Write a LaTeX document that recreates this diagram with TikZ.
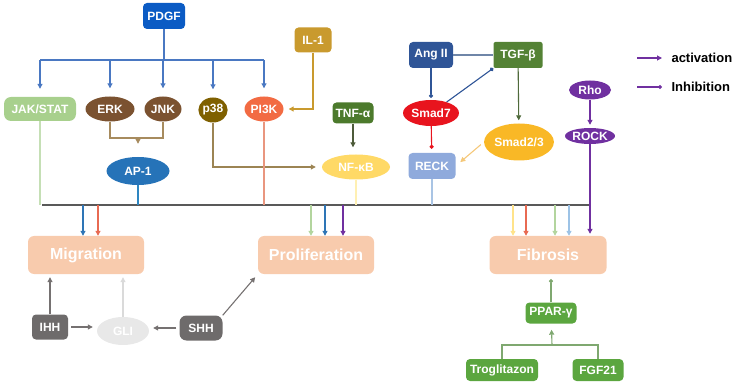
\documentclass[tikz,border=0pt]{standalone}
\usepackage{fontspec}
\setmainfont{Liberation Sans}
\usetikzlibrary{arrows.meta,positioning,shapes.geometric}
\definecolor{pdgfBlue}{HTML}{0B5BC4}
\definecolor{pdgfLine}{HTML}{4A78C2}
\definecolor{jakGreen}{HTML}{A8D08D}
\definecolor{erkBrown}{HTML}{7B5230}
\definecolor{erkTan}{HTML}{A78B5E}
\definecolor{p38Olive}{HTML}{7F6000}
\definecolor{p38Line}{HTML}{9C8453}
\definecolor{pi3kRed}{HTML}{F26B43}
\definecolor{il1Gold}{HTML}{C99A2E}
\definecolor{tnfGreen}{HTML}{4C7A2C}
\definecolor{tnfLine}{HTML}{4D5B3A}
\definecolor{ap1Blue}{HTML}{2673B8}
\definecolor{nfkbYellow}{HTML}{FFD966}
\definecolor{angBlue}{HTML}{2F5597}
\definecolor{angLine}{HTML}{6F86A8}
\definecolor{tgfGreen}{HTML}{548235}
\definecolor{tgfLine}{HTML}{4F6A3B}
\definecolor{smadRed}{HTML}{E8141E}
\definecolor{smadGold}{HTML}{F9B826}
\definecolor{smadLine}{HTML}{F5C87A}
\definecolor{reckBlue}{HTML}{8FAADC}
\definecolor{rhoPurple}{HTML}{7030A0}
\definecolor{outPeach}{HTML}{F8CBAD}
\definecolor{hhGray}{HTML}{6E6B6B}
\definecolor{hhLine}{HTML}{757171}
\definecolor{gliGray}{HTML}{E8E8E8}
\definecolor{gliLine}{HTML}{DADADA}
\definecolor{pparGreen}{HTML}{5BA63F}
\definecolor{pparLine}{HTML}{7FA870}
\definecolor{busGray}{HTML}{595959}
\definecolor{feedJak}{HTML}{C5DFB5}
\definecolor{feedAp}{HTML}{2E86C1}
\definecolor{feedPi}{HTML}{E9967F}
\definecolor{feedNf}{HTML}{FFF0B3}
\definecolor{feedReck}{HTML}{A9C4E4}
\definecolor{outBlue}{HTML}{2E75B6}
\definecolor{outRed}{HTML}{E86A52}
\definecolor{outGreen}{HTML}{B3D59E}
\definecolor{outYellow}{HTML}{FFE38A}
\definecolor{outSky}{HTML}{9DC3E6}
\tikzset{
  every picture/.style={font=\bfseries\fontsize{12}{14}\selectfont},
  path box/.style={rectangle, rounded corners=4pt, text=white, inner sep=0pt, align=center},
  path oval/.style={ellipse, text=white, inner sep=0pt},
  out box/.style={path box, fill=outPeach, minimum width=116pt, minimum height=38pt,
    rounded corners=6pt, font=\bfseries\fontsize{16}{18}\selectfont},
  path line/.style={line width=1.1pt},
  path act/.style={path line, -{Triangle[length=5pt,width=5pt]}},
  path inh/.style={path line, -{Circle[length=4pt]}},
  bus line/.style={draw=busGray, line width=1.8pt},
  legend text/.style={anchor=west, text=black, font=\bfseries\fontsize{13}{15}\selectfont}
}
\begin{document}
\begin{tikzpicture}[x=1pt,y=-1pt]
  \useasboundingbox (0,0) rectangle (733,387);
  % upstream signals
  \node[path box, fill=pdgfBlue, minimum width=42pt, minimum height=26pt] (PDGF) at (164,16) {PDGF};
  \node[path box, fill=il1Gold, minimum width=37pt, minimum height=25pt] (IL1) at (313,40) {IL-1};
  \node[path box, fill=jakGreen, minimum width=72pt, minimum height=24pt, rounded corners=7pt] (JAKSTAT) at (40,109) {JAK/STAT};
  \node[path oval, fill=erkBrown, minimum width=49pt, minimum height=25pt] (ERK) at (110,109) {ERK};
  \node[path oval, fill=erkBrown, minimum width=37pt, minimum height=25pt] (JNK) at (163,109) {JNK};
  \node[path oval, fill=p38Olive, minimum width=29pt, minimum height=25pt] (p38) at (213,110) {p38};
  \node[path oval, fill=pi3kRed, minimum width=39pt, minimum height=25pt] (PI3K) at (264,109) {PI3K};
  \node[path box, fill=tnfGreen, minimum width=41pt, minimum height=21pt] (TNF) at (353,113) {TNF-α};
  \node[path oval, fill=ap1Blue, minimum width=63pt, minimum height=28pt] (AP1) at (138,171) {AP-1};
  \node[path oval, fill=nfkbYellow, minimum width=68pt, minimum height=25pt] (NFkB) at (356,167) {NF-κB};
  \node[path box, fill=angBlue, minimum width=44pt, minimum height=26pt] (AngII) at (431,55) {Ang II};
  \node[path box, fill=tgfGreen, minimum width=49pt, minimum height=26pt, rounded corners=2pt] (TGFb) at (518,55) {TGF-β};
  \node[path oval, fill=smadRed, minimum width=56pt, minimum height=26pt] (Smad7) at (431,113) {Smad7};
  \node[path oval, fill=smadGold, minimum width=53pt, minimum height=37pt] (Smad23) at (519,142) {Smad2/3};
  \node[path box, fill=reckBlue, minimum width=47pt, minimum height=26pt] (RECK) at (432,166) {RECK};
  \node[path oval, fill=rhoPurple, minimum width=42pt, minimum height=19pt] (Rho) at (590,90) {Rho};
  \node[path oval, fill=rhoPurple, minimum width=45pt, minimum height=16pt] (ROCK) at (590,136) {ROCK};
  % outcomes
  \node[out box] (Migration) at (86,255) {Migration};
  \node[out box] (Proliferation) at (316,255) {Proliferation};
  \node[out box, minimum width=117pt] (Fibrosis) at (548,255) {Fibrosis};
  % hedgehog and PPAR branch
  \node[path box, fill=hhGray, minimum width=36pt, minimum height=25pt] (IHH) at (50,327) {IHH};
  \node[path oval, fill=gliGray, minimum width=52pt, minimum height=28pt] (GLI) at (123,331) {GLI};
  \node[path box, fill=hhGray, minimum width=43pt, minimum height=25pt, rounded corners=7pt] (SHH) at (201,328) {SHH};
  \node[path box, fill=pparGreen, minimum width=51pt, minimum height=21pt] (PPAR) at (551,313) {PPAR-γ};
  \node[path box, fill=pparGreen, minimum width=72pt, minimum height=22pt] (Trog) at (502,370) {Troglitazon};
  \node[path box, fill=pparGreen, minimum width=51pt, minimum height=22pt] (FGF21) at (598,370) {FGF21};
  % legend
  \node[legend text] (legAct) at (668,58) {activation};
  \node[legend text] (legInh) at (668,87) {Inhibition};
  \coordinate (legActStart) at (637,58);
  \coordinate (legInhStart) at (637,87);
  \draw[path act, rhoPurple, shorten >=6pt] (legActStart) -- (legAct.west);
  \draw[path inh, rhoPurple, shorten >=6pt] (legInhStart) -- (legInh.west);

  % PDGF fan-out
  \coordinate (pdgfSplit) at (164,60);
  \draw[path line, pdgfLine] (PDGF) -- (pdgfSplit);
  \draw[path line, pdgfLine] (JAKSTAT.north |- pdgfSplit) -- (PI3K.north |- pdgfSplit);
  \foreach \n in {JAKSTAT,ERK,JNK,p38,PI3K}
    \draw[path act, pdgfLine, shorten >=8pt] (\n.north |- pdgfSplit) -- (\n.north);
  \draw[path act, il1Gold, shorten >=5pt] (IL1) |- (PI3K);
  \coordinate (ap1Join) at (138,138);
  \draw[path line, erkTan] (ERK) |- (ap1Join) -| (JNK);
  \draw[path act, erkTan, shorten >=13pt] (ap1Join) -- (AP1);
  \draw[path act, p38Line, shorten >=6pt] (p38) |- (NFkB);
  \draw[path act, tnfLine, shorten >=7pt] (TNF) -- (TNF |- NFkB.north);
  % Ang II / TGF-beta
  \draw[path line, angLine] (AngII) -- (TGFb);
  \draw[path inh, angBlue, shorten >=2pt] (AngII) -- (Smad7);
  \draw[path inh, angBlue] (Smad7.35) -- (TGFb.south west);
  \draw[path inh, smadRed, shorten >=4pt] (Smad7) -- (RECK);
  \draw[path act, tgfLine, shorten >=3pt] (TGFb) -- (Smad23);
  \draw[path act, smadLine, shorten <=4pt, shorten >=6pt] (Smad23.west) -- (RECK.east);
  \draw[path act, rhoPurple, shorten >=3pt] (Rho) -- (ROCK);

  % collecting line
  \coordinate (busL) at (42,205);
  \coordinate (busR) at (591,205);
  \draw[bus line] (busL) -- (busR);
  \draw[path line, feedJak] (JAKSTAT) -- (JAKSTAT |- busL);
  \draw[path line, feedAp] (AP1) -- (AP1 |- busL);
  \draw[path line, feedPi] (PI3K) -- (PI3K |- busL);
  \draw[path line, feedNf] (NFkB) -- (NFkB |- busL);
  \draw[path line, feedReck] (RECK) -- (RECK |- busL);
  \draw[path act, rhoPurple, shorten >=2pt] (ROCK) -- (ROCK |- Fibrosis.north);
  \foreach \dx/\c in {-3/outBlue, 12/outRed}
    \draw[path act, \c] ([xshift=\dx pt]Migration.north |- busL) -- ([xshift=\dx pt]Migration.north);
  \foreach \dx/\c in {-5/outGreen, 9/outBlue, 27/rhoPurple}
    \draw[path act, \c] ([xshift=\dx pt]Proliferation.north |- busL) -- ([xshift=\dx pt]Proliferation.north);
  \foreach \dx/\c in {-35/outYellow, -22/outRed, 7/outGreen, 21/outSky}
    \draw[path act, \c] ([xshift=\dx pt]Fibrosis.north |- busL) -- ([xshift=\dx pt]Fibrosis.north);

  % hedgehog arrows
  \draw[path act, hhLine, shorten >=3pt] (IHH) -- (IHH |- Migration.south);
  \draw[path act, gliLine, shorten >=3pt] (GLI) -- (GLI |- Migration.south);
  \draw[path act, hhLine, shorten <=3pt, shorten >=4pt] (IHH.east) -- (IHH.east -| GLI.west);
  \draw[path act, hhLine, shorten <=3pt, shorten >=4pt] (SHH.west) -- (SHH.west -| GLI.east);
  \draw[path act, hhLine, shorten >=4pt] (SHH.north east) -- (Proliferation.south west);
  % PPAR-gamma arrows
  \draw[path inh, pparLine, shorten >=5pt] (PPAR) -- (PPAR |- Fibrosis.south);
  \coordinate (pparJoin) at (552,345);
  \draw[path line, pparLine] (Trog) |- (pparJoin) -| (FGF21);
  \draw[path act, pparLine, shorten >=6pt] (pparJoin) -- (PPAR);
\end{tikzpicture}
\end{document}
